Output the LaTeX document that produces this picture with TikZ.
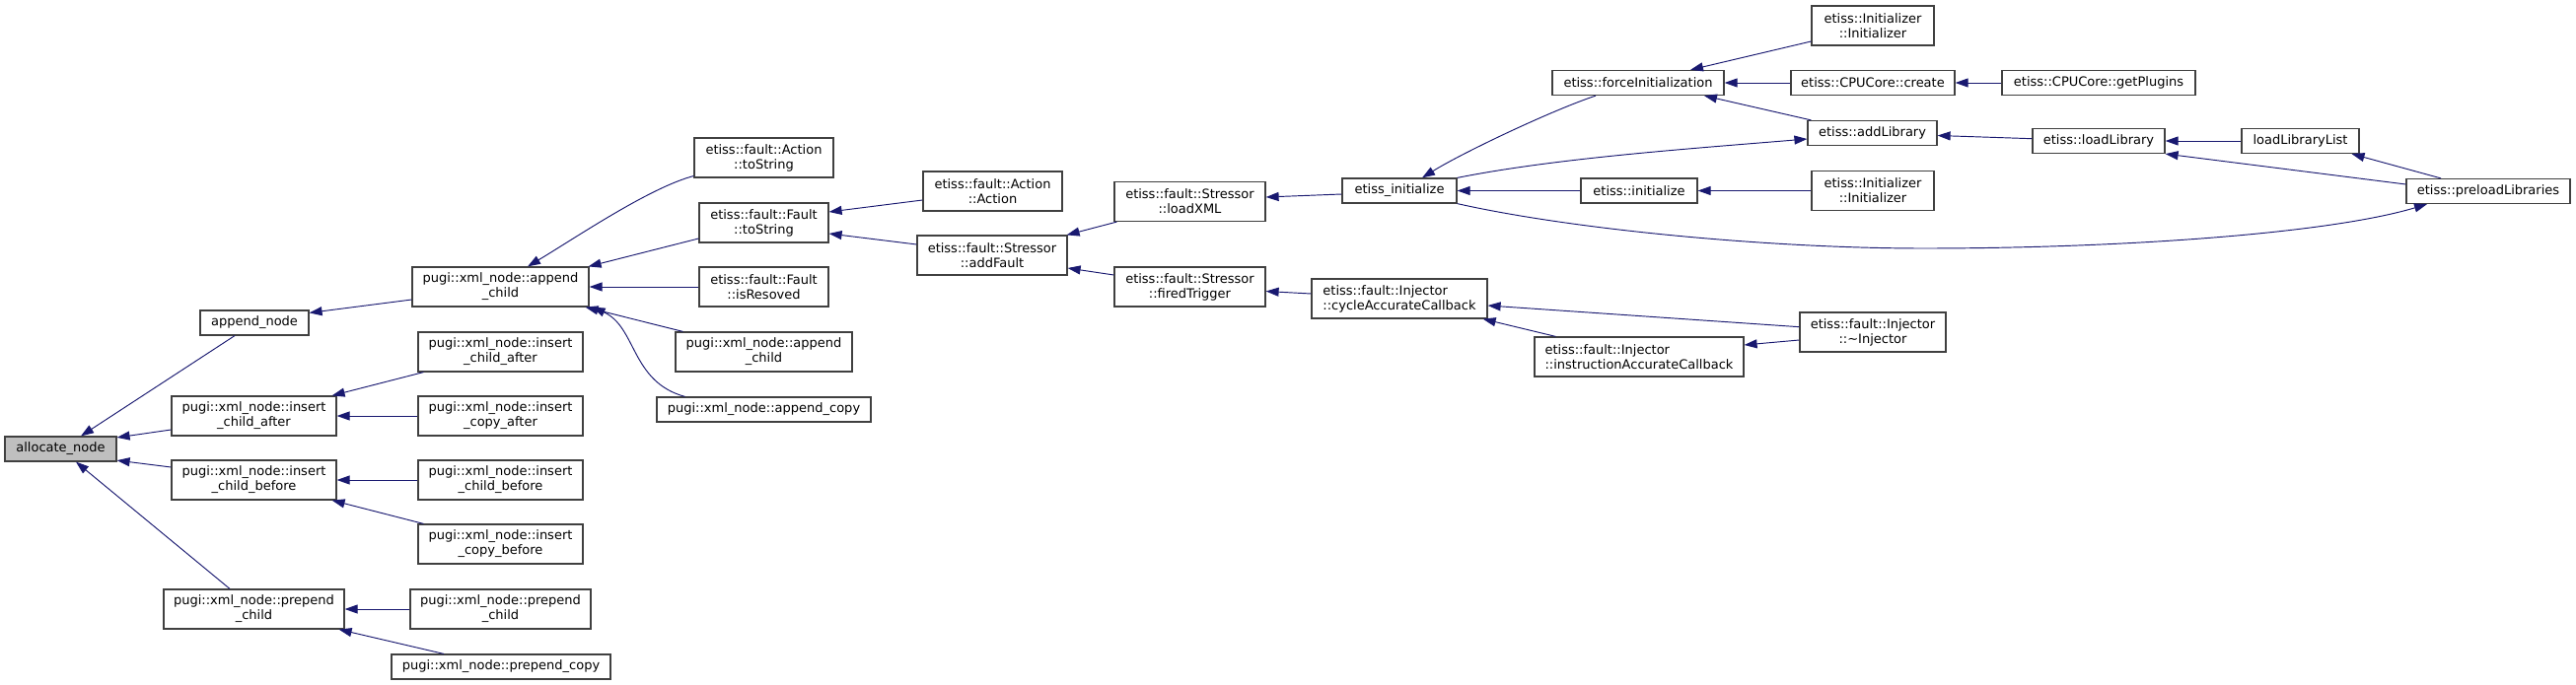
\documentclass[tikz,border=0pt]{standalone}
\usepackage{fontspec}
\setmainfont{DejaVu Sans}
\usetikzlibrary{arrows.meta}
\definecolor{edgeblue}{HTML}{191970}
\definecolor{boxgray}{HTML}{BFBFBF}
\definecolor{boxline}{HTML}{404040}
\begin{document}
\begin{tikzpicture}[x=1pt,y=-1pt,
  fn/.style={draw=boxline, line width=1.2pt, fill=white, inner sep=0pt, align=center, font=\fontsize{13}{15}\selectfont},
  sz/.style 2 args={minimum width=#1pt, minimum height=#2pt},
  call/.style={draw=edgeblue, line width=0.95pt, arrows={Triangle[length=13pt,width=9pt]-}},
]
\useasboundingbox (0,0) rectangle (2612,695);
\node[fn,sz={113}{25},fill=boxgray] (alloc) at (61.5,455.5) {allocate\_node};
\node[fn,sz={110}{25}] (appnode) at (258,327.5) {append\_node};
\node[fn,sz={167}{40}] (icaL) at (257.5,422) {pugi::xml\_node::insert\\\_child\_after};
\node[fn,sz={167}{40}] (icbL) at (257.5,487) {pugi::xml\_node::insert\\\_child\_before};
\node[fn,sz={183}{40}] (pcL) at (257.5,618) {pugi::xml\_node::prepend\\\_child};
\node[fn,sz={179}{40}] (ac1) at (507.5,291) {pugi::xml\_node::append\\\_child};
\node[fn,sz={167}{40}] (icaR) at (507.5,357) {pugi::xml\_node::insert\\\_child\_after};
\node[fn,sz={167}{40}] (icpa) at (507.5,422) {pugi::xml\_node::insert\\\_copy\_after};
\node[fn,sz={167}{40}] (icbR) at (507.5,487) {pugi::xml\_node::insert\\\_child\_before};
\node[fn,sz={167}{40}] (icpb) at (507.5,552) {pugi::xml\_node::insert\\\_copy\_before};
\node[fn,sz={183}{40}] (pcR) at (507.5,618) {pugi::xml\_node::prepend\\\_child};
\node[fn,sz={222}{25}] (pcopy) at (508,676.5) {pugi::xml\_node::prepend\_copy};
\node[fn,sz={141}{40}] (actTS) at (774.5,160) {etiss::fault::Action\\::toString};
\node[fn,sz={131}{40}] (ftS) at (774.5,226) {etiss::fault::Fault\\::toString};
\node[fn,sz={131}{40}] (isRes) at (774.5,291) {etiss::fault::Fault\\::isResoved};
\node[fn,sz={179}{40}] (ac2) at (774.5,357) {pugi::xml\_node::append\\\_child};
\node[fn,sz={217}{25}] (acopy) at (774.5,415.5) {pugi::xml\_node::append\_copy};
\node[fn,sz={141}{40}] (actAct) at (1006.5,194) {etiss::fault::Action\\::Action};
\node[fn,sz={152}{40}] (addFault) at (1006,259) {etiss::fault::Stressor\\::addFault};
\node[fn,sz={153}{40}] (loadXML) at (1206.5,204.5) {etiss::fault::Stressor\\::loadXML};
\node[fn,sz={153}{40}] (fired) at (1206.5,291) {etiss::fault::Stressor\\::firedTrigger};
\node[fn,sz={116}{25}] (einit) at (1419,193.5) {etiss\_initialize};
\node[fn,sz={178}{40},align=left] (cycle) at (1419,303) {etiss::fault::Injector\\::cycleAccurateCallback};
\node[fn,sz={174}{25}] (force) at (1661,84) {etiss::forceInitialization};
\node[fn,sz={118}{25}] (einitz) at (1662,193.5) {etiss::initialize};
\node[fn,sz={212}{40},align=left] (instr) at (1662,362) {etiss::fault::Injector\\::instructionAccurateCallback};
\node[fn,sz={124}{40}] (init1) at (1899,26) {etiss::Initializer\\::Initializer};
\node[fn,sz={166}{25}] (create) at (1899,84) {etiss::CPUCore::create};
\node[fn,sz={131}{25}] (addLib) at (1898.5,135) {etiss::addLibrary};
\node[fn,sz={124}{40}] (init2) at (1899,193.5) {etiss::Initializer\\::Initializer};
\node[fn,sz={148}{40}] (dtor) at (1899,337) {etiss::fault::Injector\\::\textasciitilde Injector};
\node[fn,sz={196}{25}] (plugins) at (2128,84) {etiss::CPUCore::getPlugins};
\node[fn,sz={134}{25}] (loadLib) at (2128,143) {etiss::loadLibrary};
\node[fn,sz={119}{25}] (loadList) at (2332.5,143) {loadLibraryList};
\node[fn,sz={166}{25}] (preload) at (2523,194) {etiss::preloadLibraries};
\coordinate (dip) at (1950,252);

\draw[call] ([xshift=20.5pt]alloc.north) -- ([xshift=-20pt]appnode.south);
\draw[call] ([yshift=-1.5pt]alloc.north east) -- ([yshift=-14pt]icaL.west);
\draw[call] ([yshift=1.5pt]alloc.south east) -- ([yshift=13pt]icbL.west);
\draw[call] ([xshift=15.5pt]alloc.south) -- ([xshift=-24.5pt]pcL.north);
\draw[call] ([yshift=-3pt]appnode.north east) -- ([yshift=-13pt]ac1.west);
\draw[call] ([xshift=-5pt]icaL.north east) -- ([xshift=6pt]icaR.south west);
\draw[call] (icaL.east) -- (icpa.west);
\draw[call] (icbL.east) -- (icbR.west);
\draw[call] ([xshift=-5pt]icbL.south east) -- ([xshift=6pt]icpb.north west);
\draw[call] (pcL.east) -- (pcR.west);
\draw[call] ([xshift=-6pt]pcL.south east) -- ([xshift=-58pt]pcopy.north);
\draw[call] ([xshift=27.5pt]ac1.north) .. controls +(50,-30) and +(-45,12) .. ([yshift=-18.5pt]actTS.west);
\draw[call] ([xshift=-1pt]ac1.north east) -- ([yshift=-16pt]ftS.west);
\draw[call] (ac1.east) -- (isRes.west);
\draw[call] ([xshift=-4pt]ac1.south east) -- ([xshift=8pt]ac2.north west);
\draw[call] ([xshift=3pt]ac1.south east) .. controls +(45,20) and +(-55,-15) .. ([xshift=-80pt]acopy.north);
\draw[call] ([yshift=11pt]ftS.east) -- ([yshift=-9pt]actAct.west);
\draw[call] ([yshift=-11pt]ftS.east) -- ([yshift=11pt]addFault.west);
\draw[call] ([xshift=-1pt]addFault.north east) -- ([xshift=3pt]loadXML.south west);
\draw[call] ([yshift=-13pt]addFault.east) -- ([yshift=12pt]fired.west);
\draw[call] ([yshift=4.5pt]loadXML.east) -- ([yshift=-3.5pt]einit.west);
\draw[call] ([yshift=-4.5pt]fired.east) -- ([yshift=5pt]cycle.west);
\draw[call] ([xshift=23pt]einit.north) .. controls +(40,-25) and +(-45,15) .. ([xshift=-43pt]force.south);
\draw[call] ([yshift=-6pt]addLib.west) .. controls +(-120,10) and +(100,-20) .. (einit.north east);
\draw[call] (einit.east) -- (einitz.west);
\draw[call] ([xshift=-62pt]preload.south) .. controls +(-100,30) and +(200,0) .. (dip) .. controls +(-150,0) and +(120,27) .. (einit.south east);
\draw[call] ([xshift=53pt]force.north) -- ([yshift=-16pt]init1.west);
\draw[call] (force.east) -- (create.west);
\draw[call] ([xshift=67pt]force.south) -- ([xshift=4pt]addLib.north west);
\draw[call] (create.east) -- (plugins.west);
\draw[call] (einitz.east) -- (init2.west);
\draw[call] ([yshift=-2.5pt]addLib.east) -- ([yshift=2.3pt]loadLib.west);
\draw[call] (loadLib.east) -- (loadList.west);
\draw[call] (loadLib.south east) -- ([yshift=7pt]preload.west);
\draw[call] ([xshift=52pt]loadList.south) -- ([xshift=-48pt]preload.north);
\draw[call] ([yshift=-7pt]cycle.east) -- ([yshift=5.3pt]dtor.west);
\draw[call] ([xshift=-5pt]cycle.south east) -- ([xshift=22pt]instr.north west);
\draw[call] ([yshift=12pt]instr.east) -- ([yshift=-8pt]dtor.west);
\end{tikzpicture}
\end{document}
